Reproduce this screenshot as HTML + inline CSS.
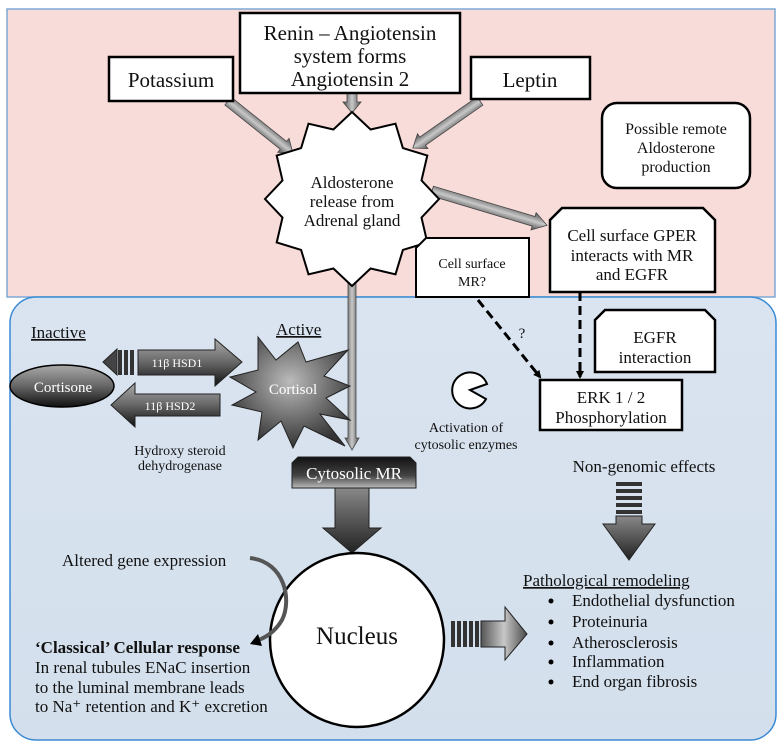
<!DOCTYPE html>
<html><head><meta charset="utf-8"><style>
html,body{margin:0;padding:0;background:#fff}
svg{display:block}
text{font-family:"Liberation Serif",serif;fill:#111}
</style></head><body>
<svg width="784" height="750" viewBox="0 0 784 750" xmlns="http://www.w3.org/2000/svg">
<defs>
<linearGradient id="ga" x1="0" y1="0" x2="0" y2="1">
<stop offset="0" stop-color="#555"/><stop offset="0.5" stop-color="#c8c8c8"/><stop offset="1" stop-color="#4a4a4a"/></linearGradient>
<linearGradient id="gh" x1="0" y1="0" x2="1" y2="0">
<stop offset="0" stop-color="#555"/><stop offset="0.5" stop-color="#c8c8c8"/><stop offset="1" stop-color="#4a4a4a"/></linearGradient>
<linearGradient id="gd" x1="0" y1="0" x2="0" y2="1">
<stop offset="0" stop-color="#aaa"/><stop offset="0.5" stop-color="#666"/><stop offset="1" stop-color="#111"/></linearGradient>
<linearGradient id="gdown" x1="0" y1="0" x2="0" y2="1">
<stop offset="0" stop-color="#888"/><stop offset="1" stop-color="#222"/></linearGradient>
<linearGradient id="gcy" x1="0" y1="0" x2="0" y2="1">
<stop offset="0" stop-color="#111"/><stop offset="0.6" stop-color="#444"/><stop offset="1" stop-color="#bbb"/></linearGradient>
<radialGradient id="gr" cx="0.5" cy="0.4" r="0.6">
<stop offset="0" stop-color="#bbb"/><stop offset="1" stop-color="#333"/></radialGradient>
<linearGradient id="gblue" x1="0" y1="0" x2="0" y2="1">
<stop offset="0" stop-color="#dae4f0"/><stop offset="1" stop-color="#d3dfec"/></linearGradient>
<marker id="m" markerWidth="8" markerHeight="8" refX="6" refY="4" orient="auto" markerUnits="userSpaceOnUse">
<path d="M0,0 L8,4 L0,8 z" fill="#000"/></marker>
</defs>

<!-- panels -->
<rect x="7" y="9" width="768" height="288" fill="#f8dcd9" stroke="#7fa8d6" stroke-width="1.5"/>
<rect x="10" y="297" width="766" height="443" rx="26" fill="url(#gblue)" stroke="#3a8ad4" stroke-width="1.5"/>

<!-- arrows to star -->
<g transform="translate(228,101) rotate(38.7)"><polygon points="0,-5 71,-5 71,-9 83,0 71,9 71,5 0,5" fill="url(#ga)" stroke="#444" stroke-width="0.8"/></g>
<g transform="translate(480,101) rotate(145)"><polygon points="0,-5 70,-5 70,-9 82,0 70,9 70,5 0,5" fill="url(#ga)" stroke="#444" stroke-width="0.8"/></g>
<g transform="translate(352,93) rotate(90)"><polygon points="0,-5 9,-5 9,-9 20,0 9,9 9,5 0,5" fill="url(#ga)" stroke="#444" stroke-width="0.8"/></g>
<g transform="translate(432,191) rotate(16.6)"><polygon points="0,-5 106,-5 106,-9 120,0 106,9 106,5 0,5" fill="url(#ga)" stroke="#444" stroke-width="0.8"/></g>
<g transform="translate(352,280) rotate(90)"><polygon points="0,-4 158,-4 158,-7 170,0 158,7 158,4 0,4" fill="url(#ga)" stroke="#444" stroke-width="0.8"/></g>

<!-- boxes top -->
<rect x="240" y="13" width="220" height="80" fill="#fff" stroke="#000" stroke-width="2.5"/>
<text x="350" y="40" font-size="21" text-anchor="middle">Renin – Angiotensin</text>
<text x="350" y="63" font-size="21" text-anchor="middle">system forms</text>
<text x="350" y="86" font-size="21" text-anchor="middle">Angiotensin 2</text>
<rect x="109" y="57" width="124" height="44" fill="#fff" stroke="#000" stroke-width="2.5"/>
<text x="171" y="87" font-size="21" text-anchor="middle">Potassium</text>
<rect x="471" y="57" width="119" height="42" fill="#fff" stroke="#000" stroke-width="2.5"/>
<text x="530" y="87" font-size="21" text-anchor="middle">Leptin</text>
<rect x="602" y="103" width="148" height="85" rx="15" fill="#fff" stroke="#000" stroke-width="2.5"/>
<text x="676" y="134" font-size="16" text-anchor="middle">Possible remote</text>
<text x="676" y="153" font-size="16" text-anchor="middle">Aldosterone</text>
<text x="676" y="172" font-size="16" text-anchor="middle">production</text>

<!-- star -->
<polygon points="352,112 370.6,129.5 395.5,123.7 402.9,148.1 427.3,155.5 421.5,180.4 439,199 421.5,217.6 427.3,242.5 402.9,249.9 395.5,274.3 370.6,268.5 352,286 333.4,268.5 308.5,274.3 301.1,249.9 276.7,242.5 282.5,217.6 265,199 282.5,180.4 276.7,155.5 301.1,148.1 308.5,123.7 333.4,129.5" fill="#fff" stroke="#000" stroke-width="2"/>
<text x="352" y="188" font-size="17" text-anchor="middle">Aldosterone</text>
<text x="352" y="207" font-size="17" text-anchor="middle">release from</text>
<text x="352" y="226" font-size="17" text-anchor="middle">Adrenal gland</text>

<!-- GPER -->
<polygon points="562,208 703,208 715,220 715,292 550,292 550,220" fill="#fff" stroke="#000" stroke-width="2.5"/>
<text x="632" y="241" font-size="17" text-anchor="middle">Cell surface GPER</text>
<text x="632" y="261" font-size="17" text-anchor="middle">interacts with MR</text>
<text x="632" y="280" font-size="17" text-anchor="middle">and EGFR</text>
<!-- cell surface MR -->
<polygon points="426,238 529,238 529,297 416,297 416,248" fill="#fff" stroke="#000" stroke-width="2"/>
<text x="472" y="268" font-size="14" text-anchor="middle">Cell surface</text>
<text x="472" y="286" font-size="14" text-anchor="middle">MR?</text>

<!-- dashed -->
<line x1="478" y1="300" x2="540" y2="377" stroke="#000" stroke-width="3" stroke-dasharray="9,5" marker-end="url(#m)"/>
<line x1="580" y1="292" x2="580" y2="377" stroke="#000" stroke-width="3" stroke-dasharray="9,5" marker-end="url(#m)"/>
<text x="522" y="338" font-size="15" text-anchor="middle">?</text>

<!-- EGFR -->
<polygon points="605,310 705,310 715,320 715,372 595,372 595,320" fill="#fff" stroke="#000" stroke-width="2.5"/>
<text x="655" y="343" font-size="17" text-anchor="middle">EGFR</text>
<text x="655" y="363" font-size="17" text-anchor="middle">interaction</text>
<!-- ERK -->
<rect x="540" y="380" width="142" height="50" fill="#fff" stroke="#000" stroke-width="2.5"/>
<text x="611" y="403" font-size="17" text-anchor="middle">ERK 1 / 2</text>
<text x="611" y="423" font-size="17" text-anchor="middle">Phosphorylation</text>

<!-- pacman -->
<path d="M470,390 L486,399 A18,18 0 1 1 487,384 Z" fill="#fff" stroke="#000" stroke-width="2"/>
<text x="466" y="432" font-size="14" text-anchor="middle">Activation of</text>
<text x="466" y="449" font-size="14" text-anchor="middle">cytosolic enzymes</text>

<!-- left section -->
<text x="31" y="338" font-size="17" text-decoration="underline">Inactive</text>
<text x="276" y="335" font-size="17" text-decoration="underline">Active</text>

<!-- HSD1 -->
<polygon points="103,362 117,349 117,375" fill="#444" stroke="#222"/>
<rect x="118" y="350" width="4" height="25" fill="#333"/>
<rect x="124" y="350" width="4" height="25" fill="#333"/>
<rect x="130" y="350" width="4" height="25" fill="#333"/>
<polygon points="138,350 215,350 215,339 242,362 215,386 215,375 138,375" fill="url(#gd)" stroke="#222"/>
<text x="177" y="367" font-size="12" fill="#fff" text-anchor="middle" style="fill:#fff">11β HSD1</text>
<!-- HSD2 -->
<polygon points="220,394 135,394 135,383 111,405 135,427 135,416 220,416" fill="url(#gd)" stroke="#222"/>
<text x="170" y="410" font-size="12" text-anchor="middle" style="fill:#fff">11β HSD2</text>
<!-- cortisone -->
<ellipse cx="62" cy="386" rx="52" ry="21" fill="url(#gd)" stroke="#000" stroke-width="1.5"/>
<text x="63" y="392" font-size="15" text-anchor="middle" style="fill:#fff">Cortisone</text>
<!-- cortisol -->
<polygon points="258,337 276,360 298,342 306,362 348,350 324,376 350,386 326,398 350,420 320,414 345,446 304,426 293,448 281,421 258,440 262,412 232,405 256,392 230,377 258,370" fill="url(#gr)" stroke="#222" stroke-width="1"/>
<text x="293" y="394" font-size="15" text-anchor="middle" style="fill:#fff">Cortisol</text>
<text x="180" y="455" font-size="14" text-anchor="middle">Hydroxy steroid</text>
<text x="180" y="470" font-size="14" text-anchor="middle">dehydrogenase</text>

<!-- cytosolic MR -->
<polygon points="298,457 410,457 416,463 416,488 292,488 292,463" fill="url(#gcy)" stroke="#222"/>
<text x="354" y="479" font-size="17" text-anchor="middle" style="fill:#fff">Cytosolic MR</text>
<!-- big down arrow -->
<polygon points="335,488 369,488 369,528 381,528 352,553 323,528 335,528" fill="url(#gdown)" stroke="#222"/>

<!-- non-genomic -->
<text x="644" y="472" font-size="17" text-anchor="middle">Non-genomic effects</text>
<rect x="616" y="482" width="26" height="4" fill="#333"/>
<rect x="616" y="489" width="26" height="4" fill="#333"/>
<rect x="616" y="496" width="26" height="4" fill="#333"/>
<rect x="616" y="503" width="26" height="4" fill="#333"/>
<rect x="616" y="510" width="26" height="4" fill="#333"/>
<polygon points="616,516 642,516 642,524 655,524 629,560 603,524 616,524" fill="url(#gdown)" stroke="#222"/>

<!-- nucleus -->
<ellipse cx="357" cy="640" rx="87" ry="87" fill="#fff" stroke="#000" stroke-width="2.5"/>
<text x="357" y="644" font-size="25" text-anchor="middle">Nucleus</text>
<!-- curved arrow -->
<path d="M250,558 C285,562 292,600 282,620 C275,632 265,638 256,641" fill="none" stroke="#555" stroke-width="4"/>
<polygon points="250,644 258,634 262,646" fill="#000"/>

<!-- right arrow -->
<rect x="451" y="621" width="4" height="26" fill="#333"/>
<rect x="457" y="621" width="4" height="26" fill="#333"/>
<rect x="463" y="621" width="4" height="26" fill="#333"/>
<rect x="469" y="621" width="4" height="26" fill="#333"/>
<rect x="475" y="621" width="4" height="26" fill="#333"/>
<polygon points="481,621 505,621 505,607 527,634 505,660 505,647 481,647" fill="url(#gh)" stroke="#222"/>

<!-- text lower -->
<text x="62" y="566" font-size="17">Altered gene expression</text>
<text x="35" y="653" font-size="17" font-weight="bold">‘Classical’ Cellular response</text>
<text x="35" y="673" font-size="17">In renal tubules ENaC insertion</text>
<text x="35" y="693" font-size="17">to the luminal membrane leads</text>
<text x="35" y="712" font-size="17">to Na⁺ retention and K⁺ excretion</text>

<text x="523" y="586" font-size="17" text-decoration="underline">Pathological remodeling</text>
<g font-size="17">
<circle cx="551" cy="601" r="2.5" fill="#000"/><text x="572" y="606">Endothelial dysfunction</text>
<circle cx="551" cy="622" r="2.5" fill="#000"/><text x="572" y="627">Proteinuria</text>
<circle cx="551" cy="643" r="2.5" fill="#000"/><text x="572" y="648">Atherosclerosis</text>
<circle cx="551" cy="662" r="2.5" fill="#000"/><text x="572" y="667">Inflammation</text>
<circle cx="551" cy="682" r="2.5" fill="#000"/><text x="572" y="687">End organ fibrosis</text>
</g>
</svg>
</body></html>
